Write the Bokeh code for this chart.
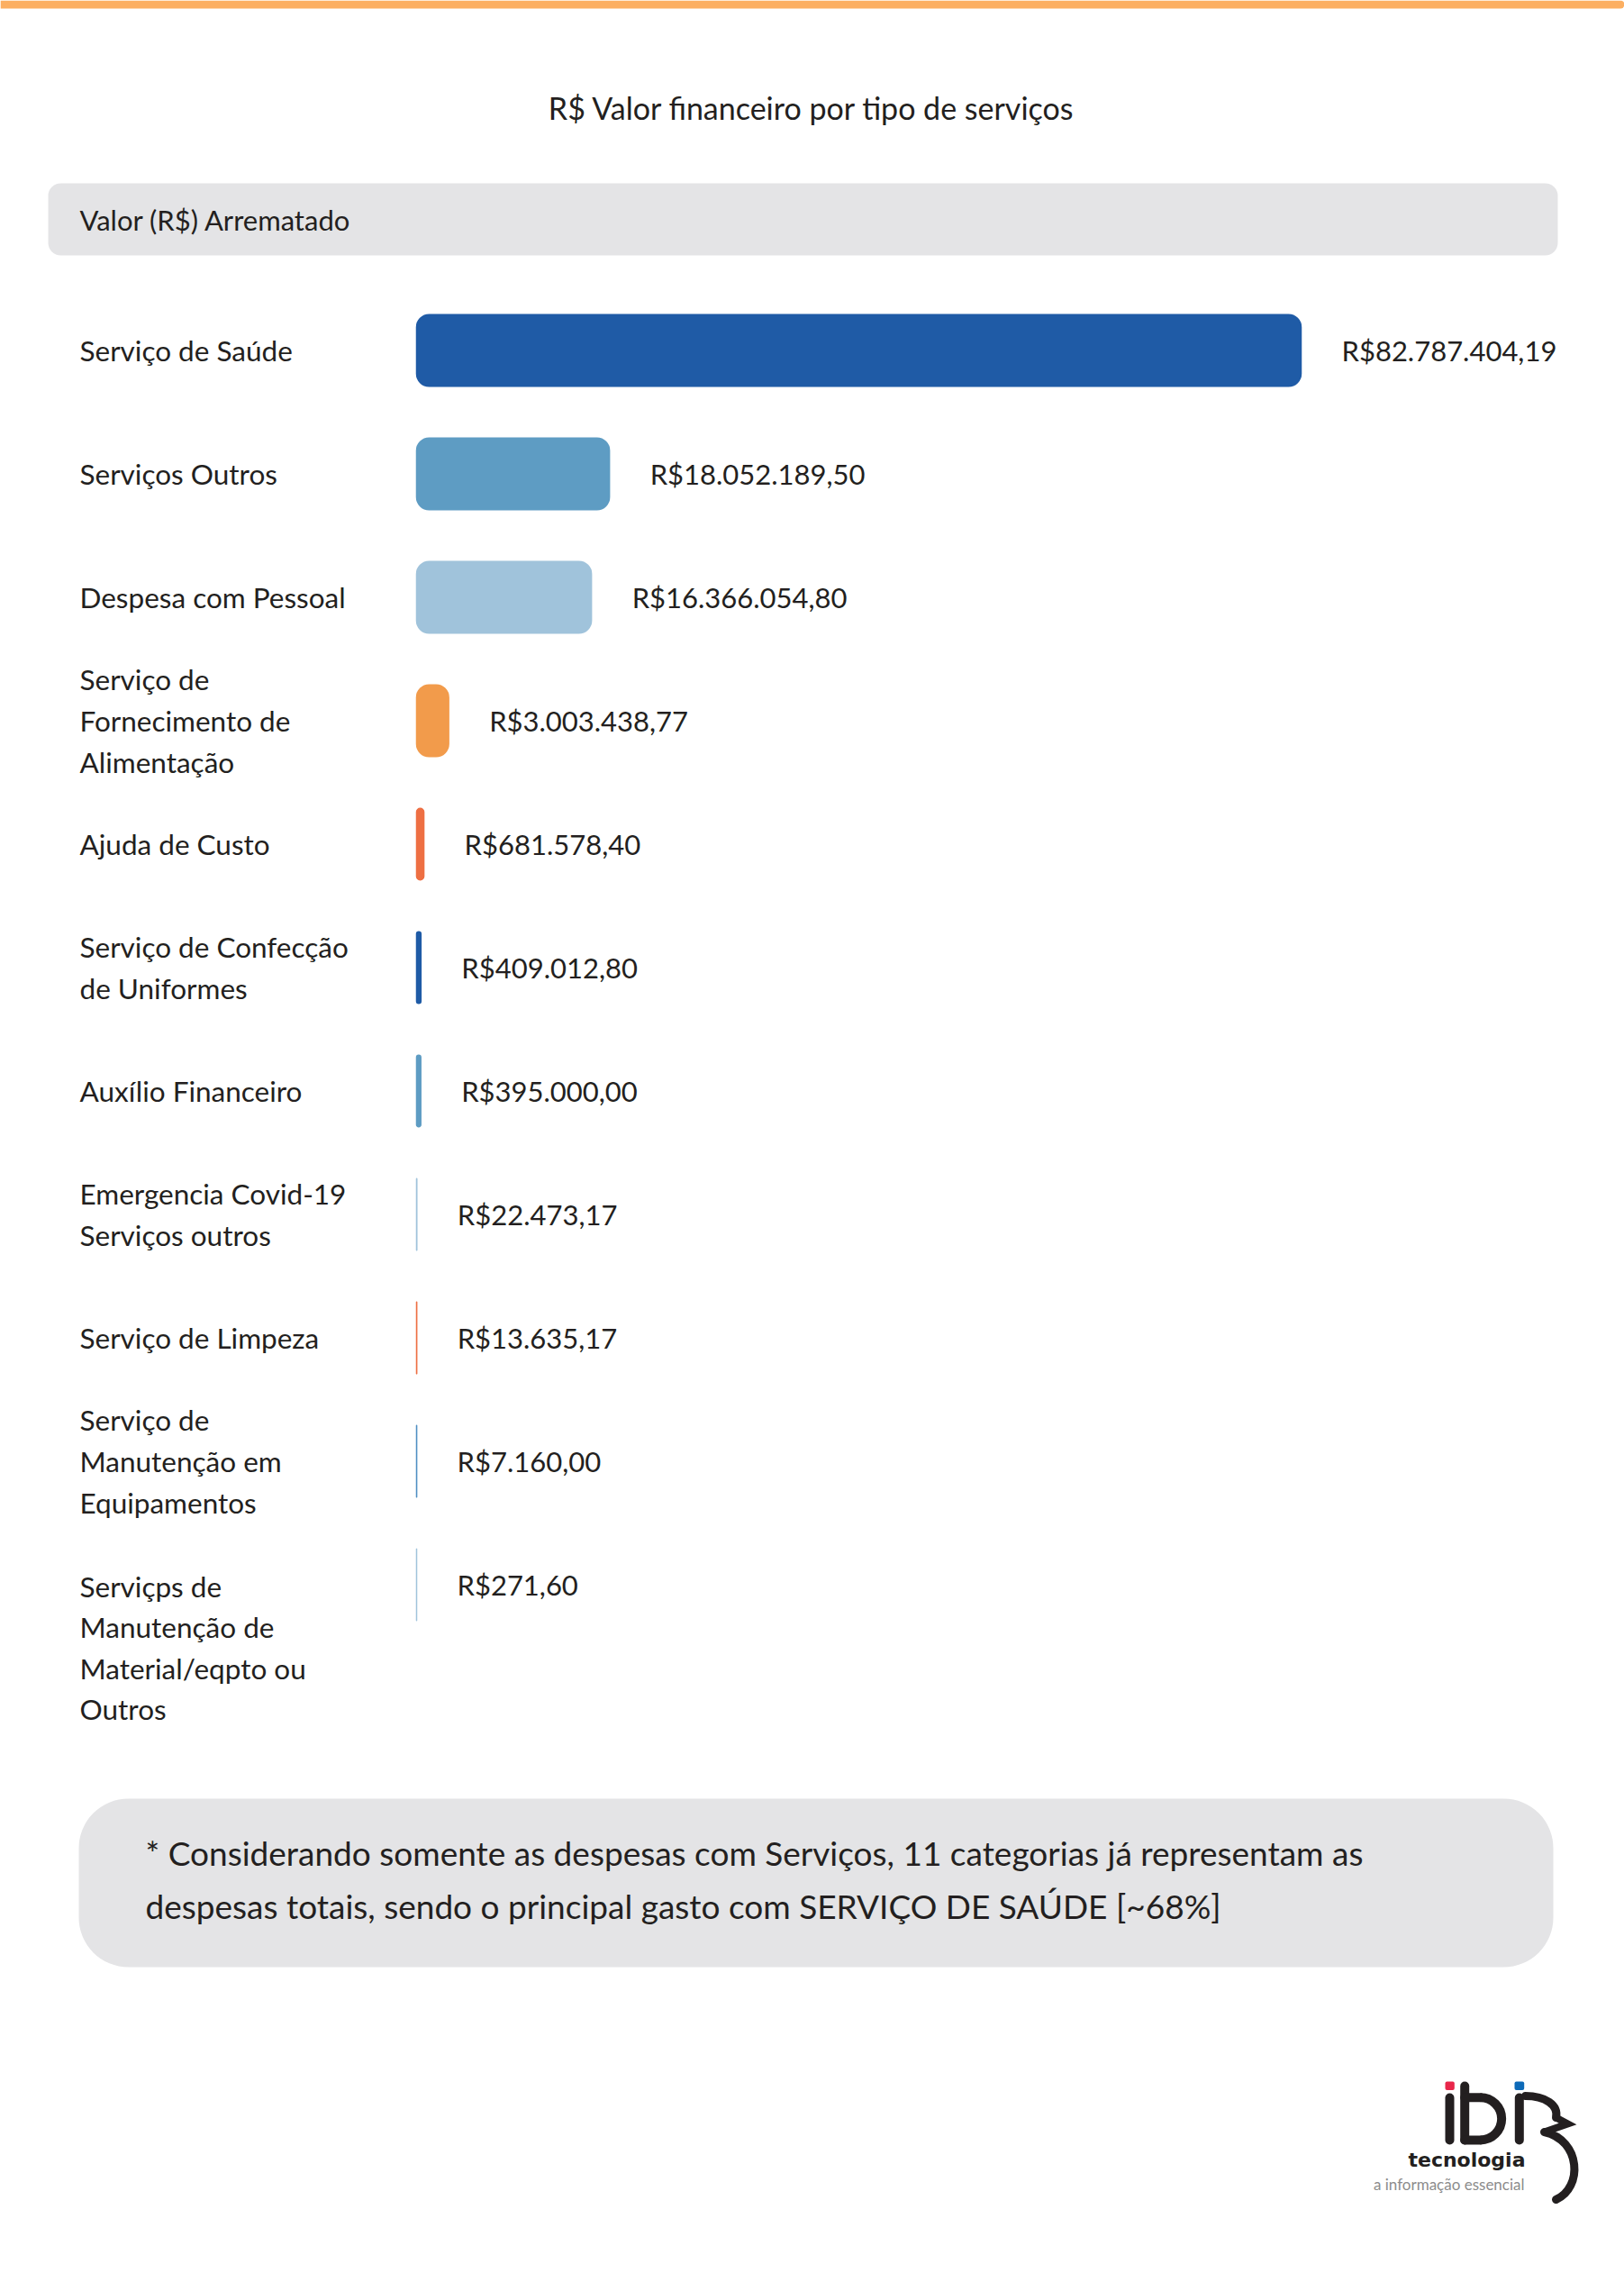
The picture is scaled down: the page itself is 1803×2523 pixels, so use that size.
import math
from bokeh.plotting import figure
from bokeh.layouts import column
from bokeh.models import ColumnDataSource, Range1d, FactorRange
from bokeh.core.properties import value
from bokeh.embed import file_html
from bokeh.resources import INLINE

# ---------------- data ----------------
TITLE = "R$ Valor financeiro por tipo de serviços"
SERIES_NAME = "Valor (R$) Arrematado"
categories = [
    "Serviço de Saúde",
    "Serviços Outros",
    "Despesa com Pessoal",
    "Serviço de\nFornecimento de\nAlimentação",
    "Ajuda de Custo",
    "Serviço de Confecção\nde Uniformes",
    "Auxílio Financeiro",
    "Emergencia Covid-19\nServiços outros",
    "Serviço de Limpeza",
    "Serviço de\nManutenção em\nEquipamentos",
    "Serviçps de\nManutenção de\nMaterial/eqpto ou\nOutros",
]
values = [82787404.19, 18052189.50, 16366054.80, 3003438.77, 681578.40,
          409012.80, 395000.00, 22473.17, 13635.17, 7160.00, 271.60]
NOTE_LINES = [
    "* Considerando somente as despesas com Serviços, 11 categorias já representam as",
    "despesas totais, sendo o principal gasto com SERVIÇO DE SAÚDE [~68%]",
]
LOGO_WORD = "tecnologia"
LOGO_TAGLINE = "a informação essencial"

# ---------------- style ----------------
DARK, MID, LIGHT, ORANGE, RED = "#1F5BA6", "#5E9CC3", "#A0C3DB", "#F29B4B", "#EE6F43"
palette = [DARK, MID, LIGHT, ORANGE, RED, DARK, MID, LIGHT, RED, "#4F8FC2", LIGHT]
FONT = "Lato"
INK = "#231F20"
BOX = "#E4E4E6"

W, H = 1803, 2520
HEAD_H = 320                   # header figure height
ROW = 137                      # px per category row
FRAME_H = ROW * len(categories)
OVER = 150                     # room below the last row for its label
BAR_H = FRAME_H + OVER
FOOT_H = H - HEAD_H - BAR_H
BAR_X0, BAR_LEN = 462, 982     # screen x of zero, px of the largest bar


def brl(v):
    s = f"{v:,.2f}".replace(",", "X").replace(".", ",").replace("X", ".")
    return "R$" + s


def blank(height, y_top):
    """figure whose data coordinates are page pixels"""
    f = figure(width=W, height=height, x_range=Range1d(0, W),
               y_range=Range1d(y_top + height, y_top),
               x_axis_type=None, y_axis_type=None, output_backend="svg",
               toolbar_location=None, min_border=0)
    f.outline_line_color = None
    f.grid.visible = False
    return f


# ---------- header ----------
ph = blank(HEAD_H, 0)
ph.quad(left=0, right=W, top=0, bottom=9, fill_color="#FCAF62",
        line_color=None, border_radius=(0, 7, 7, 0))
ph.text(x=[901], y=[119], text=[TITLE], text_font=value(FONT), text_font_size="34px",
        text_color=INK, text_align="center", text_baseline="middle")
ph.quad(left=53, right=1729, top=203, bottom=283, fill_color=BOX, line_color=None,
        border_radius=14)
ph.text(x=[88], y=[243], text=[SERIES_NAME], text_font=value(FONT), text_font_size="31px",
        text_color=INK, text_align="left", text_baseline="middle")

# ---------- bars ----------
factors = [c.replace("\n", " ") for c in categories]
u = max(values) / BAR_LEN
LINE_PX = 46.6
yoff = []
for c in categories:
    n = c.count("\n") + 1
    yoff.append((n - 1) / 2 * LINE_PX if n > 3 else 0)

src = ColumnDataSource(dict(cat=factors, val=values, color=palette, label=categories,
                            vlabel=[brl(v) for v in values], yoff=yoff))

p = figure(width=W, height=BAR_H,
           x_range=Range1d(-BAR_X0 * u, (W - BAR_X0) * u),
           y_range=FactorRange(factors=list(reversed(factors)), range_padding=0, factor_padding=0),
           x_axis_type=None, y_axis_type=None, output_backend="svg", toolbar_location=None,
           min_border_left=0, min_border_right=0, min_border_top=0, min_border_bottom=OVER)
p.outline_line_color = None
p.grid.visible = False
p.extra_x_ranges = {"px": Range1d(0, W)}

p.hbar(y="cat", left=0, right="val", height=0.58, fill_color="color", line_color="color",
       line_width=1.5, border_radius=14, source=src)
r = p.text(x=88, y="cat", text="label", source=src, x_range_name="px",
           text_font=value(FONT), text_font_size="31.5px", text_color=INK,
           text_align="left", text_baseline="middle", text_line_height=1.2, y_offset="yoff")
r.level = "overlay"
p.text(x="val", y="cat", text="vlabel", source=src, x_offset=45,
       text_font=value(FONT), text_font_size="31px", text_color=INK,
       text_align="left", text_baseline="middle")

# ---------- footer ----------
FOOT_TOP = HEAD_H + BAR_H
pf = blank(FOOT_H, FOOT_TOP)
pf.quad(left=87, right=1724, top=1996, bottom=2183, fill_color=BOX, line_color=None,
        border_radius=55)
pf.text(x=[161], y=[2085.5], text=["\n".join(NOTE_LINES)], text_font=value(FONT),
        text_font_size="37px", text_color=INK, text_align="left", text_baseline="middle",
        text_line_height=1.33)

# logo
pf.quad(left=[1604, 1681], right=[1614.3, 1691.7], top=[2310, 2310], bottom=[2319.5, 2319.5],
        fill_color=["#E8264A", "#0D6AB8"], line_color=None, border_radius=2)
pf.segment(x0=[1609, 1625.7, 1686.3, 1625.7, 1625.7], y0=[2328, 2315, 2328, 2327.7, 2375],
           x1=[1609, 1625.7, 1686.3, 1643, 1643], y1=[2375, 2375, 2375, 2327.7, 2375],
           line_width=10, line_cap="round", line_color=INK)
pf.arc(x=[1643], y=[2351.35], radius=23.65, start_angle=-math.pi / 2, end_angle=math.pi / 2,
       direction="anticlock", line_width=10, line_color=INK)
pf.bezier(x0=[1693, 1714], y0=[2326, 2366], x1=[1727, 1727], y1=[2350, 2441],
          cx0=[1715, 1755], cy0=[2326, 2375], cx1=[1730, 1757], cy1=[2336, 2428],
          line_width=9, line_cap="round", line_color=INK)
pf.line(x=[1727, 1740, 1714], y=[2350, 2357, 2366], line_width=8, line_join="miter",
        line_color=INK)
pf.text(x=[1693], y=[2397], text=[LOGO_WORD], text_font=value("DejaVu Sans"),
        text_font_style="bold", text_font_size="22px", text_color=INK,
        text_align="right", text_baseline="alphabetic")
pf.text(x=[1692], y=[2424], text=[LOGO_TAGLINE], text_font=value("Lato"),
        text_font_size="17px", text_color="#8C8C8C",
        text_align="right", text_baseline="alphabetic")

layout = column(ph, p, pf, spacing=0)
open("out.html", "w").write(file_html(layout, INLINE))
